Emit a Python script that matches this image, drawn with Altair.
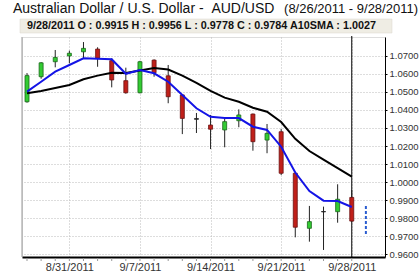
import altair as alt
import pandas as pd

dates = ["8/26/2011", "8/29/2011", "8/30/2011", "8/31/2011", "9/1/2011", "9/2/2011",
         "9/5/2011", "9/6/2011", "9/7/2011", "9/8/2011", "9/9/2011", "9/12/2011",
         "9/13/2011", "9/14/2011", "9/15/2011", "9/16/2011", "9/19/2011", "9/20/2011",
         "9/21/2011", "9/22/2011", "9/23/2011", "9/26/2011", "9/27/2011", "9/28/2011"]
opens = [1.0445, 1.0584, 1.0667, 1.0699, 1.0722, 1.0737, 1.0673, 1.0562, 1.0495, 1.0676,
         1.0589, 1.0483, 1.0352, 1.0316, 1.0289, 1.0340, 1.0377, 1.0233, 1.0279, 1.0049,
         0.9744, 0.9837, 0.9836, 0.9915]
highs = [1.0604, 1.0665, 1.0732, 1.0728, 1.0776, 1.0747, 1.0686, 1.0634, 1.0672, 1.0680,
         1.0649, 1.0487, 1.0383, 1.0372, 1.0355, 1.0403, 1.0380, 1.0322, 1.0294, 1.0052,
         0.9868, 0.9864, 0.9988, 0.9956]
lows = [1.0440, 1.0573, 1.0636, 1.0658, 1.0686, 1.0639, 1.0525, 1.0490, 1.0492, 1.0584,
        1.0437, 1.0266, 1.0272, 1.0183, 1.0193, 1.0304, 1.0174, 1.0160, 1.0039, 0.9694,
        0.9670, 0.9624, 0.9775, 0.9778]
closes = [1.0590, 1.0661, 1.0691, 1.0714, 1.0741, 1.0686, 1.0566, 1.0495, 1.0667, 1.0606,
          1.0473, 1.0353, 1.0348, 1.0293, 1.0335, 1.0372, 1.0224, 1.0270, 1.0049, 0.9750,
          0.9781, 0.9835, 0.9905, 0.9784]
sma_short = [1.0501, 1.0556, 1.0612, 1.0649, 1.0686, 1.0684, 1.0681, 1.0600, 1.0621, 1.0603,
             1.0556, 1.0483, 1.0409, 1.0362, 1.0355, 1.0355, 1.0307, 1.0289, 1.0196, 1.0053,
             0.9950, 0.9897, 0.9895, 0.9862]
sma10 = [1.0492, 1.0505, 1.0521, 1.0538, 1.0570, 1.0590, 1.0606, 1.0605, 1.0618, 1.0632,
         1.0624, 1.0590, 1.0550, 1.0505, 1.0468, 1.0445, 1.0412, 1.0390, 1.0333, 1.0240,
         1.0172, 1.0124, 1.0078, 1.0030]
next_high = [0.9873]
next_low = [0.9712]
tick_labels = ["8/31/2011", "9/7/2011", "9/14/2011", "9/21/2011", "9/28/2011"]
y_ticks = [0.96, 0.97, 0.98, 0.99, 1.00, 1.01, 1.02, 1.03, 1.04, 1.05, 1.06, 1.07]
title_main = "Australian Dollar / U.S. Dollar -  AUD/USD"
title_range = "(8/26/2011 - 9/28/2011)"
header_text = "9/28/2011 O : 0.9915 H : 0.9956 L : 0.9778 C : 0.9784 A10SMA : 1.0027"

df = pd.DataFrame({"i": list(range(len(dates))), "date": dates, "open": opens,
                   "high": highs, "low": lows, "close": closes,
                   "sma": sma_short, "sma10": sma10})
df["dir"] = ["doji" if abs(c - o) < 0.0006 else ("up" if c > o else "down")
             for o, c in zip(opens, closes)]
tick_pos = [dates.index(t) for t in tick_labels]
label_expr = " : ".join(f"datum.value == {p} ? '{t}'" for p, t in zip(tick_pos, tick_labels)) + " : ''"

W, H = 363, 220
xs = alt.Scale(domain=[0, 25], nice=False, zero=False)
ys = alt.Scale(domain=[0.9585, 1.0804], nice=False, zero=False)
FONT = "Liberation Sans"

xaxis = alt.Axis(values=tick_pos, labelExpr=label_expr, grid=True, gridDash=[1, 2],
                 gridColor="#bbbbbb", domainColor="#000000", domainWidth=2,
                 ticks=False, labelFont=FONT, labelFontSize=11, labelColor="#333333",
                 labelPadding=4, labelOverlap=False, title=None)
yaxis = alt.Axis(orient="right", values=y_ticks, format=".4f", grid=True, gridDash=[1, 2],
                 gridColor="#bbbbbb", domainColor="#000000", tickColor="#000000", tickSize=2,
                 labelFont=FONT, labelFontSize=9.5, labelColor="#333333", labelPadding=2,
                 labelOverlap=False, labelFlush=False, title=None)


def X(field):
    return alt.X(field, scale=xs, axis=xaxis)


def Y(field):
    return alt.Y(field, scale=ys, axis=yaxis)


base = alt.Chart(df)

frame = base.mark_point(opacity=0).encode(x=X("i:Q"), y=Y("close:Q"))

left_line = alt.Chart(pd.DataFrame({"a": [0]})).mark_rule(color="#999999", strokeWidth=1).encode(
    x=alt.value(0), y=alt.value(0), y2=alt.value(H))

minor = base.mark_rule(color="#999999", clip=False).encode(
    x=X("i:Q"), y=alt.value(H + 1), y2=alt.value(H + 4))

cross = alt.Chart(pd.DataFrame({"i": [dates.index("9/28/2011")]})).mark_rule(
    color="#000000", strokeWidth=1).encode(x=X("i:Q"), y=alt.value(-1), y2=alt.value(H))

wicks = base.mark_rule(color="#222222", strokeWidth=1, clip=True).encode(
    x=X("i:Q"), y=Y("low:Q"), y2="high:Q")

bodies = base.mark_bar(size=4, strokeWidth=0.8, clip=True).encode(
    x=X("i:Q"), y=Y("open:Q"), y2="close:Q",
    fill=alt.Fill("dir:N", scale=alt.Scale(domain=["up", "down", "doji"],
                                           range=["#33cc33", "#c0201a", "#222222"]), legend=None),
    stroke=alt.Stroke("dir:N", scale=alt.Scale(domain=["up", "down", "doji"],
                                               range=["#1a661a", "#6a1010", "#222222"]), legend=None),
)

line10 = base.mark_line(color="#000000", strokeWidth=2, clip=True).encode(
    x=X("i:Q"), y=Y("sma10:Q"))
line_s = base.mark_line(color="#1414e6", strokeWidth=2, clip=True).encode(
    x=X("i:Q"), y=Y("sma:Q"))

nxt = alt.Chart(pd.DataFrame({"i": [len(dates)], "lo": next_low, "hi": next_high})).mark_rule(
    color="#2a5cd0", strokeWidth=2, strokeDash=[3, 2]).encode(
    x=X("i:Q"), y=Y("lo:Q"), y2="hi:Q")

one = pd.DataFrame({"t": [title_main.replace("  ", "\u00a0\u00a0")], "r": [title_range],
                    "h": [header_text]})
header_box = alt.Chart(one).mark_rect(fill="#efede4", stroke="#d8d6cc", strokeWidth=0.5).encode(
    x=alt.value(-2), x2=alt.value(370), y=alt.value(-18), y2=alt.value(-4))
header = alt.Chart(one).mark_text(align="left", baseline="middle", font=FONT, fontSize=10.8,
                                  fontWeight="bold", color="#111111").encode(
    x=alt.value(5), y=alt.value(-11), text="h:N")
title = alt.Chart(one).mark_text(align="left", baseline="middle", font=FONT, fontSize=14,
                                 color="#111111").encode(
    x=alt.value(-9), y=alt.value(-28), text="t:N")
title_r = alt.Chart(one).mark_text(align="right", baseline="middle", font=FONT, fontSize=13,
                                   color="#111111").encode(
    x=alt.value(396), y=alt.value(-28), text="r:N")

chart = alt.layer(frame, left_line, minor, cross, wicks, bodies, line10, line_s, nxt,
                  header_box, header, title, title_r).properties(
    width=W, height=H,
    autosize=alt.AutoSizeParams(type="none"),
    padding={"left": 22, "top": 37, "right": 34, "bottom": 15},
).configure_view(stroke=None).configure_axis(labelOverlap=False).configure(background="#ffffff")

chart.save("out.html", embed_options={"renderer": "svg", "actions": False})
